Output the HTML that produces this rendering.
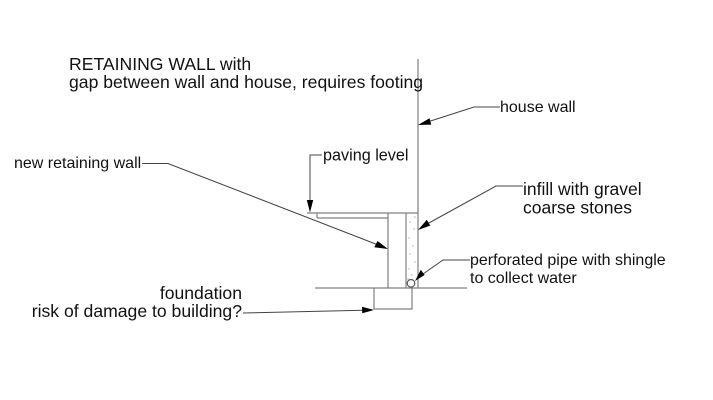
<!DOCTYPE html>
<html>
<head>
<meta charset="utf-8">
<style>
html,body{margin:0;padding:0;background:#fff;}
svg{display:block;}
text{font-family:"Liberation Sans",Arial,sans-serif;fill:#111;}
</style>
</head>
<body>
<svg width="713" height="400" viewBox="0 0 713 400" xmlns="http://www.w3.org/2000/svg">
  <!-- structure -->
  <g stroke="#808080" stroke-width="1.2" fill="none">
    <line x1="418" y1="59" x2="418" y2="288"/>
    <line x1="307" y1="213" x2="418" y2="213"/>
    <line x1="317" y1="218" x2="388" y2="218"/>
    <line x1="317" y1="213" x2="317" y2="218"/>
    <line x1="388" y1="213" x2="388" y2="288"/>
    <line x1="406" y1="213" x2="406" y2="288"/>
    <line x1="315" y1="288" x2="467" y2="288"/>
    <polyline points="374,288 374,309 412,309 412,288"/>
    <circle cx="411" cy="283.3" r="3.8" stroke="#555"/>
  </g>
  <!-- gravel dots -->
  <g fill="#888">
    <circle cx="410" cy="222" r="0.6"/>
    <circle cx="414" cy="229" r="0.6"/>
    <circle cx="409" cy="238" r="0.6"/>
    <circle cx="413" cy="246" r="0.6"/>
    <circle cx="410" cy="254" r="0.6"/>
    <circle cx="415" cy="262" r="0.6"/>
    <circle cx="409" cy="269" r="0.6"/>
    <circle cx="412" cy="275" r="0.6"/>
    <circle cx="408" cy="279" r="0.6"/>
    <circle cx="415" cy="217" r="0.6"/>
  </g>
  <!-- leaders -->
  <g stroke="#444" stroke-width="1" fill="none">
    <polyline points="322,155 310,155 310,202"/>
    <polyline points="142,163.5 168,163.5 377,244.5"/>
    <polyline points="500,107 474,107 429,121.5"/>
    <polyline points="523,186 496,186 428,223.5"/>
    <polyline points="470,260 443,260 423,274"/>
    <polyline points="243,313 363,310.3"/>
  </g>
  <!-- arrowheads -->
  <g fill="#000">
    <polygon points="310,212.5 306.8,200 313.2,200"/>
    <polygon points="388,249 374.3,247.3 377.5,241"/>
    <polygon points="418,125 429.5,118.2 431.3,124.6"/>
    <polygon points="418,230 426.8,219.8 430.2,225.6"/>
    <polygon points="415,281 420.8,269.7 424.6,275"/>
    <polygon points="374,310 362,306.8 362.2,313.2"/>
  </g>
  <!-- text -->
  <text x="69" y="70" font-size="17.6">RETAINING WALL with</text>
  <text x="69" y="88" font-size="17.6">gap between wall and house, requires footing</text>
  <text x="500" y="112" font-size="16">house wall</text>
  <text x="323" y="160.5" font-size="16.2">paving level</text>
  <text x="14" y="168" font-size="16">new retaining wall</text>
  <text x="523" y="195" font-size="17.5">infill with gravel</text>
  <text x="523" y="213.5" font-size="17.5">coarse stones</text>
  <text x="470" y="265" font-size="16">perforated pipe with shingle</text>
  <text x="470" y="283" font-size="16">to collect water</text>
  <text x="242" y="299" font-size="17.6" text-anchor="end">foundation</text>
  <text x="242" y="317" font-size="17.6" text-anchor="end">risk of damage to building?</text>
</svg>
</body>
</html>
